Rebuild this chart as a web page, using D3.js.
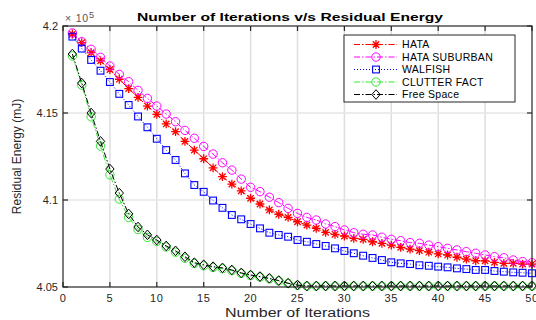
<!DOCTYPE html>
<html><head><meta charset="utf-8">
<script src="https://cdn.jsdelivr.net/npm/d3@7"></script>
<style>body{margin:0;background:#fff}svg{display:block;font-family:"Liberation Sans",Arial,sans-serif}</style>
</head><body><svg id="c" width="536" height="320"></svg>
<script>
const iterations = d3.range(1, 51);
const hata = [4.1954,4.1904,4.1847,4.1800,4.1750,4.1694,4.1640,4.1590,4.1540,4.1492,4.1437,4.1393,4.1337,4.1287,4.1237,4.1185,4.1134,4.1091,4.1053,4.1010,4.0977,4.0943,4.0918,4.0900,4.0875,4.0856,4.0837,4.0814,4.0803,4.0793,4.0780,4.0774,4.0760,4.0751,4.0741,4.0728,4.0718,4.0709,4.0700,4.0690,4.0684,4.0671,4.0660,4.0651,4.0650,4.0642,4.0636,4.0636,4.0632,4.0632];
const hataSub = [4.1960,4.1910,4.1866,4.1820,4.1770,4.1722,4.1680,4.1630,4.1584,4.1540,4.1494,4.1450,4.1400,4.1355,4.1308,4.1264,4.1214,4.1172,4.1120,4.1073,4.1048,4.1016,4.0985,4.0952,4.0923,4.0900,4.0885,4.0862,4.0847,4.0828,4.0812,4.0803,4.0799,4.0786,4.0774,4.0766,4.0755,4.0751,4.0741,4.0732,4.0722,4.0713,4.0703,4.0694,4.0684,4.0674,4.0668,4.0655,4.0646,4.0640];
const walfish = [4.1939,4.1870,4.1805,4.1743,4.1678,4.1610,4.1546,4.1480,4.1418,4.1352,4.1287,4.1230,4.1153,4.1086,4.1047,4.0997,4.0955,4.0914,4.0889,4.0862,4.0837,4.0812,4.0799,4.0789,4.0770,4.0760,4.0747,4.0736,4.0722,4.0707,4.0694,4.0680,4.0667,4.0655,4.0642,4.0636,4.0632,4.0625,4.0622,4.0617,4.0613,4.0607,4.0603,4.0598,4.0598,4.0592,4.0588,4.0584,4.0582,4.0579];
const clutter = [4.1828,4.1660,4.1478,4.1310,4.1145,4.1005,4.0900,4.0830,4.0785,4.0762,4.0730,4.0700,4.0665,4.0635,4.0622,4.0612,4.0605,4.0594,4.0578,4.0566,4.0557,4.0547,4.0535,4.0520,4.0510,4.0505,4.0505,4.0505,4.0505,4.0505,4.0505,4.0505,4.0505,4.0505,4.0505,4.0505,4.0505,4.0505,4.0505,4.0505,4.0505,4.0505,4.0505,4.0505,4.0505,4.0505,4.0505,4.0505,4.0505,4.0505];
const freeSpace = [4.1839,4.1672,4.1500,4.1337,4.1178,4.1040,4.0920,4.0845,4.0800,4.0770,4.0736,4.0708,4.0674,4.0640,4.0628,4.0617,4.0610,4.0598,4.0581,4.0569,4.0560,4.0550,4.0537,4.0522,4.0511,4.0506,4.0506,4.0506,4.0506,4.0506,4.0506,4.0506,4.0506,4.0506,4.0506,4.0506,4.0506,4.0506,4.0506,4.0506,4.0506,4.0506,4.0506,4.0506,4.0506,4.0506,4.0506,4.0506,4.0506,4.0506];
const seriesNames = ["HATA","HATA SUBURBAN","WALFISH","CLUTTER FACT","Free Space"];
const xTicks = [0,5,10,15,20,25,30,35,40,45,50];
const yTicks = [4.05,4.1,4.15,4.2];
const yTickLabels = ["4.05","4.1","4.15","4.2"];

const series = [
  {name: seriesNames[0], values: hata, color: "#ff0000", dash: "6,2,1.5,2", marker: "star"},
  {name: seriesNames[1], values: hataSub, color: "#ff00ff", dash: "6,2,1.5,2", marker: "circle"},
  {name: seriesNames[2], values: walfish, color: "#0000ff", dash: "1,2", marker: "square"},
  {name: seriesNames[3], values: clutter, color: "#33e633", dash: "6,2,1.5,2", marker: "circle"},
  {name: seriesNames[4], values: freeSpace, color: "#000000", dash: "6,2,1.5,2", marker: "diamond"}
];

const L = 63, R = 532, T = 26, B = 287;
const svg = d3.select("#c");
const x = d3.scaleLinear().domain([0, 50]).range([L, R]);
const y = d3.scaleLinear().domain([4.05, 4.2]).range([B, T]);

// grid
const g = svg.append("g");
g.selectAll(".vg").data(xTicks.slice(1, -1)).enter().append("line")
  .attr("x1", d => x(d)).attr("x2", d => x(d)).attr("y1", T).attr("y2", B)
  .attr("stroke", "#dedede").attr("stroke-width", 1.5);
g.selectAll(".hg").data(yTicks.slice(1, -1)).enter().append("line")
  .attr("y1", d => y(d)).attr("y2", d => y(d)).attr("x1", L).attr("x2", R)
  .attr("stroke", "#e6e6e6").attr("stroke-width", 1.5);

function marker(sel, type, color) {
  sel.each(function(d) {
    const m = d3.select(this);
    if (type === "circle") {
      m.append("circle").attr("r", 4.2).attr("fill", "none").attr("stroke", color).attr("stroke-width", 1);
    } else if (type === "square") {
      m.append("rect").attr("x", -3.4).attr("y", -3.4).attr("width", 6.8).attr("height", 6.8)
        .attr("fill", "none").attr("stroke", color).attr("stroke-width", 1.1);
    } else if (type === "diamond") {
      m.append("path").attr("d", "M0,-4.8L4.2,0L0,4.8L-4.2,0Z").attr("fill", "none").attr("stroke", color).attr("stroke-width", 1);
    } else if (type === "star") {
      const s = 4.4, k = s * 0.72;
      m.append("path").attr("d", `M0,${-s}V${s}M${-s},0H${s}M${-k},${-k}L${k},${k}M${-k},${k}L${k},${-k}`)
        .attr("stroke", color).attr("stroke-width", 1.3).attr("fill", "none");
    }
  });
}

const line = d3.line().x((d, i) => x(iterations[i])).y(d => y(d));
series.forEach(s => {
  svg.append("path").datum(s.values).attr("d", line)
    .attr("fill", "none").attr("stroke", s.color).attr("stroke-width", 1).attr("stroke-dasharray", s.dash);
  const mg = svg.append("g");
  mg.selectAll("g").data(s.values).enter().append("g")
    .attr("transform", (d, i) => `translate(${x(iterations[i])},${y(d)})`)
    .call(sel => marker(sel, s.marker, s.color));
});

// axes box
const axisColor = "#262626";
svg.append("rect").attr("x", L).attr("y", T).attr("width", R - L).attr("height", B - T)
  .attr("fill", "none").attr("stroke", axisColor).attr("stroke-width", 1.2);
svg.selectAll(".xtb").data(xTicks).enter().append("line")
  .attr("x1", d => x(d)).attr("x2", d => x(d)).attr("y1", B).attr("y2", B - 5).attr("stroke", axisColor).attr("stroke-width", 1.2);
svg.selectAll(".xtt").data(xTicks).enter().append("line")
  .attr("x1", d => x(d)).attr("x2", d => x(d)).attr("y1", T).attr("y2", T + 5).attr("stroke", axisColor).attr("stroke-width", 1.2);
svg.selectAll(".ytl").data(yTicks).enter().append("line")
  .attr("y1", d => y(d)).attr("y2", d => y(d)).attr("x1", L).attr("x2", L + 5).attr("stroke", axisColor).attr("stroke-width", 1.2);
svg.selectAll(".ytr").data(yTicks).enter().append("line")
  .attr("y1", d => y(d)).attr("y2", d => y(d)).attr("x1", R).attr("x2", R - 5).attr("stroke", axisColor).attr("stroke-width", 1.2);

svg.selectAll(".xl").data(xTicks).enter().append("text")
  .attr("x", d => x(d)).attr("y", 302).attr("text-anchor", "middle")
  .attr("font-size", 11).attr("letter-spacing", 0.6).attr("fill", axisColor).text(d => d);
svg.selectAll(".yl").data(yTicks).enter().append("text")
  .attr("x", L - 5).attr("y", d => y(d) + 4).attr("text-anchor", "end")
  .attr("font-size", 11).attr("fill", axisColor).text((d, i) => yTickLabels[i]);

// exponent
const ex = svg.append("text").attr("x", 65).attr("y", 22).attr("font-size", 10.5).attr("letter-spacing", 0.8).attr("fill", "#555");
ex.append("tspan").text("\u00d7 10");
ex.append("tspan").attr("dy", -4).attr("font-size", 9).text("5");

svg.append("text").attr("x", 290).attr("y", 21).attr("text-anchor", "middle")
  .attr("font-size", 11.5).attr("font-weight", "bold").attr("fill", "#000")
  .attr("textLength", 306).attr("lengthAdjust", "spacingAndGlyphs")
  .text("Number of Iterations v/s Residual Energy");
svg.append("text").attr("x", (L + R) / 2).attr("y", 317).attr("text-anchor", "middle")
  .attr("font-size", 12.5).attr("fill", axisColor)
  .attr("textLength", 145).attr("lengthAdjust", "spacingAndGlyphs")
  .text("Number of Iterations");
svg.append("text").attr("transform", `translate(21,${(T + B) / 2}) rotate(-90)`).attr("text-anchor", "middle")
  .attr("font-size", 12).attr("fill", axisColor).text("Residual Energy (mJ)");

// legend
const lg = svg.append("g");
lg.append("rect").attr("x", 344).attr("y", 35).attr("width", 171).attr("height", 67)
  .attr("fill", "#fff").attr("stroke", axisColor).attr("stroke-width", 1);
series.forEach((s, i) => {
  const yy = 44.5 + i * 12.5;
  lg.append("line").attr("x1", 354).attr("x2", 397).attr("y1", yy).attr("y2", yy)
    .attr("stroke", s.color).attr("stroke-width", 1).attr("stroke-dasharray", s.dash);
  lg.append("g").datum(0).attr("transform", `translate(376,${yy})`).call(sel => marker(sel, s.marker, s.color));
  lg.append("text").attr("x", 402).attr("y", yy + 3.8).attr("font-size", 10.5).attr("letter-spacing", 0.3).attr("fill", "#000").text(s.name);
});
</script></body></html>
